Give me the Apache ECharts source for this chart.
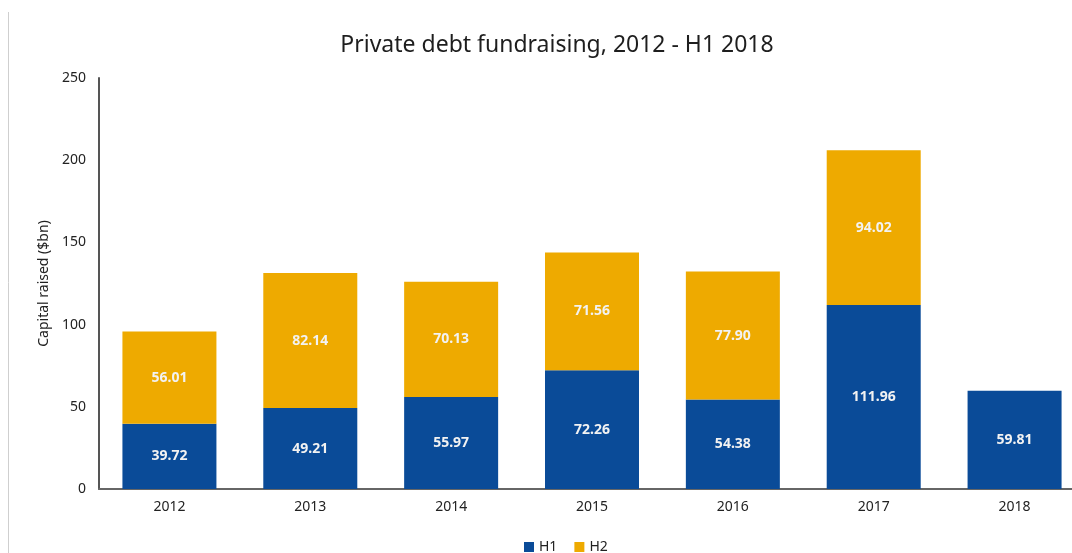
<!DOCTYPE html>
<html>
<head>
<meta charset="utf-8">
<title>Private debt fundraising</title>
<script src="https://cdn.jsdelivr.net/npm/echarts@6/dist/echarts.min.js"></script>
<style>
  html, body { margin: 0; padding: 0; background: #ffffff; }
  #chart { width: 1072px; height: 553px; }
</style>
</head>
<body>
<div id="chart"></div>
<script>
// Capital raised per half-year, $bn
const years = ['2012', '2013', '2014', '2015', '2016', '2017', '2018'];
const h1Values = [39.72, 49.21, 55.97, 72.26, 54.38, 111.96, 59.81];
const h2Values = [56.01, 82.14, 70.13, 71.56, 77.90, 94.02, null];
const yTicks = [0, 50, 100, 150, 200, 250];

const BLUE = '#0a4b98';
const GOLD = '#eeaa00';
const FONT = '"Noto Sans", "Open Sans", sans-serif';

const chart = echarts.init(document.getElementById('chart'), null, { renderer: 'canvas' });

const valueLabel = {
  show: true,
  position: 'inside',
  color: '#f2f2f2',
  fontFamily: FONT,
  fontSize: 14,
  fontWeight: 'bold',
  formatter: p => (p.value == null ? '' : Number(p.value).toFixed(2))
};

chart.setOption({
  backgroundColor: '#ffffff',
  animation: false,
  title: {
    text: 'Private debt fundraising, 2012 - H1 2018',
    left: 552,
    textAlign: 'center',
    top: 29,
    textStyle: { fontFamily: FONT, fontSize: 23, fontWeight: 'normal', color: '#1e1e1e' }
  },
  legend: {
    top: 535,
    left: 519,
    itemWidth: 10,
    itemHeight: 10,
    itemGap: 17,
    icon: 'rect',
    textStyle: { fontFamily: FONT, fontSize: 14, color: '#222' },
    data: ['H1', 'H2']
  },
  // the plot runs slightly past the right edge of the page
  grid: { left: 99, top: 78, width: 986, bottom: 64, outerBoundsMode: 'none' },
  xAxis: {
    type: 'category',
    data: years,
    axisLine: { show: true, lineStyle: { color: '#666', width: 2 } },
    axisTick: { show: false },
    axisLabel: { fontFamily: FONT, fontSize: 14, color: '#222', margin: 11 }
  },
  yAxis: {
    type: 'value',
    min: yTicks[0],
    max: yTicks[yTicks.length - 1],
    interval: 50,
    name: 'Capital raised ($bn)',
    nameLocation: 'middle',
    nameGap: 48,
    nameTextStyle: { fontFamily: FONT, fontSize: 14, color: '#222' },
    axisLine: { show: true, lineStyle: { color: '#555', width: 2 } },
    axisTick: { show: false },
    splitLine: { show: false },
    axisLabel: { fontFamily: FONT, fontSize: 14, color: '#222', margin: 13 }
  },
  series: [
    {
      name: 'H1',
      type: 'bar',
      stack: 'total',
      barWidth: 94,
      itemStyle: { color: BLUE },
      label: valueLabel,
      data: h1Values
    },
    {
      name: 'H2',
      type: 'bar',
      stack: 'total',
      barWidth: 94,
      itemStyle: { color: GOLD },
      label: valueLabel,
      data: h2Values
    }
  ],
  graphic: [
    {
      type: 'line',
      shape: { x1: 8.5, y1: 12, x2: 8.5, y2: 553 },
      style: { stroke: '#cfcfcf', lineWidth: 1 }
    }
  ]
});
</script>
</body>
</html>
